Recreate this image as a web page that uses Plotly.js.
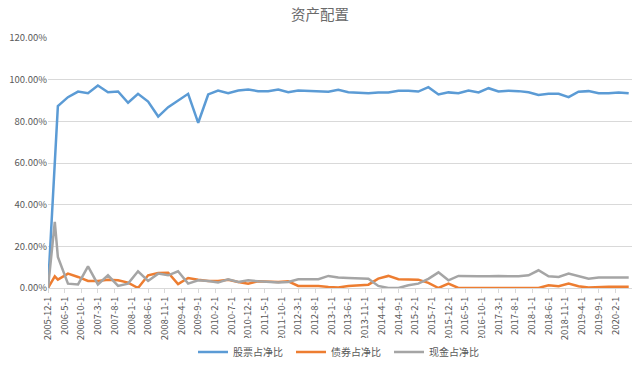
<!DOCTYPE html>
<html>
<head>
<meta charset="utf-8">
<script src="https://cdn.plot.ly/plotly-3.0.1.min.js"></script>
<style>html,body{margin:0;padding:0;background:#fff;}#chart{width:640px;height:367px;}</style>
</head>
<body>
<div id="chart"></div>
<script>
const dates = [
  "2005-12-01","2006-02-01","2006-03-01","2006-06-01","2006-09-01","2006-12-01",
  "2007-03-01","2007-06-01","2007-09-01","2007-12-01","2008-03-01","2008-06-01",
  "2008-09-01","2008-12-01","2009-03-01","2009-06-01","2009-09-01","2009-12-01",
  "2010-03-01","2010-06-01","2010-09-01","2010-12-01","2011-03-01","2011-06-01",
  "2011-09-01","2011-12-01","2012-03-01","2012-06-01","2012-09-01","2012-12-01",
  "2013-03-01","2013-06-01","2013-09-01","2013-12-01","2014-03-01","2014-06-01",
  "2014-09-01","2014-12-01","2015-03-01","2015-06-01","2015-09-01","2015-12-01",
  "2016-03-01","2016-06-01","2016-09-01","2016-12-01","2017-03-01","2017-06-01",
  "2017-09-01","2017-12-01","2018-03-01","2018-06-01","2018-09-01","2018-12-01",
  "2019-03-01","2019-06-01","2019-09-01","2019-12-01","2020-03-01","2020-06-01"
];
// 股票占净比 (%)
const stockPct = [
  0, 57, 87.3, 91.6, 94.3, 93.5,
  97.2, 94.0, 94.3, 88.9, 93.2, 89.5,
  82.3, 86.8, 90.0, 93.2, 79.3, 92.9,
  94.8, 93.5, 94.8, 95.3, 94.5, 94.5,
  95.3, 94.0, 94.8, 94.5, 94.5, 94.2,
  95.1, 94.0, 93.7, 93.5, 93.9, 93.9,
  94.7, 94.7, 94.3, 96.4, 92.9, 93.9,
  93.5, 94.8, 93.9, 95.9, 94.3, 94.7,
  94.5, 94.0, 92.7, 93.2, 93.2, 91.6,
  94.2, 94.5, 93.5, 93.5, 93.9, 93.5
];
// 债券占净比 (%)
const bondPct = [
  0, 5.6, 4.0, 6.9, 5.3, 3.4,
  3.4, 4.0, 3.7, 2.6, 0, 6.1,
  7.2, 7.3, 1.9, 4.8, 4.0, 3.4,
  3.4, 4.0, 2.9, 2.1, 3.2, 2.9,
  2.9, 3.2, 1.0, 1.0, 1.0, 0.5,
  0.2, 1.0, 1.3, 1.6, 4.5, 5.8,
  4.2, 4.0, 4.0, 2.5, 0, 2.1,
  0, 0, 0, 0, 0.3, 0,
  0.3, 0, 0, 1.3, 0.8, 2.1,
  0.8, 0.2, 0.5, 0.6, 0.6, 0.6
];
// 现金占净比 (%)
const cashPct = [
  0, 31.7, 14.9, 2.1, 1.7, 10.4,
  1.7, 6.1, 1.0, 2.1, 8.0, 3.4,
  6.9, 6.1, 8.0, 2.1, 3.7, 3.4,
  2.6, 4.2, 2.9, 3.7, 3.2, 2.9,
  2.6, 2.9, 4.2, 4.2, 4.2, 5.8,
  5.0, 4.8, 4.5, 4.5, 1.0, 0,
  0, 1.3, 2.1, 4.4, 7.5, 3.7,
  5.8, 5.6, 5.6, 5.6, 5.8, 5.6,
  5.6, 6.1, 8.5, 5.6, 5.3, 6.9,
  5.8, 4.5, 5.0, 5.0, 5.3, 5.0
];
const tickLabels = [
  "2005-12-1","2006-5-1","2006-10-1","2007-3-1","2007-8-1","2008-1-1","2008-6-1",
  "2008-11-1","2009-4-1","2009-9-1","2010-2-1","2010-7-1","2010-12-1","2011-5-1",
  "2011-10-1","2012-3-1","2012-8-1","2013-1-1","2013-6-1","2013-11-1","2014-4-1",
  "2014-9-1","2015-2-1","2015-7-1","2015-12-1","2016-5-1","2016-10-1","2017-3-1",
  "2017-8-1","2018-1-1","2018-6-1","2018-11-1","2019-4-1","2019-9-1","2020-2-1"
];
const seriesNames = ["股票占净比","债券占净比","现金占净比"];
const seriesColors = ["#5B9BD5","#ED7D31","#A5A5A5"];
const seriesData = [stockPct, bondPct, cashPct];

const FONT = "'Noto Sans CJK SC', 'Microsoft YaHei', sans-serif";
const traces = seriesData.map((ys, k) => ({
  type: 'scatter', mode: 'lines', x: dates, y: ys, name: seriesNames[k],
  line: {color: seriesColors[k], width: 2.5}
}));

const layout = {
  width: 640, height: 367,
  margin: {l: 48, r: 8, t: 37.5, b: 79},
  paper_bgcolor: '#ffffff', plot_bgcolor: '#ffffff',
  font: {family: FONT, color: '#595959', size: 9.5},
  title: {text: '资产配置', font: {family: FONT, size: 14.5, color: '#6a6a6a'},
          x: 0.5, xanchor: 'center', y: 0.958, yanchor: 'middle', yref: 'container'},
  xaxis: {
    type: 'date', range: ['2005-12-01', '2020-07-01'],
    tickvals: tickLabels, ticktext: tickLabels, tickangle: -90,
    showgrid: false, showline: true, linecolor: '#D9D9D9', linewidth: 1,
    ticks: 'outside', ticklen: 4, tickcolor: '#D9D9D9',
    tickfont: {family: FONT, size: 9.5, color: '#595959'}, zeroline: false
  },
  yaxis: {
    range: [0, 120], dtick: 20, tick0: 0, tickformat: '.2f', ticksuffix: '%',
    gridcolor: '#D9D9D9', gridwidth: 1, zeroline: false, showline: false,
    tickfont: {family: FONT, size: 9.5, color: '#595959'}
  },
  showlegend: true,
  legend: {orientation: 'h', x: 0.5, xanchor: 'center', y: 15/367, yref: 'container', yanchor: 'middle',
           font: {family: FONT, size: 10, color: '#595959'}, itemwidth: 30, entrywidth: 53}
};
Plotly.newPlot('chart', traces, layout, {displayModeBar: false, staticPlot: true});
</script>
</body>
</html>
